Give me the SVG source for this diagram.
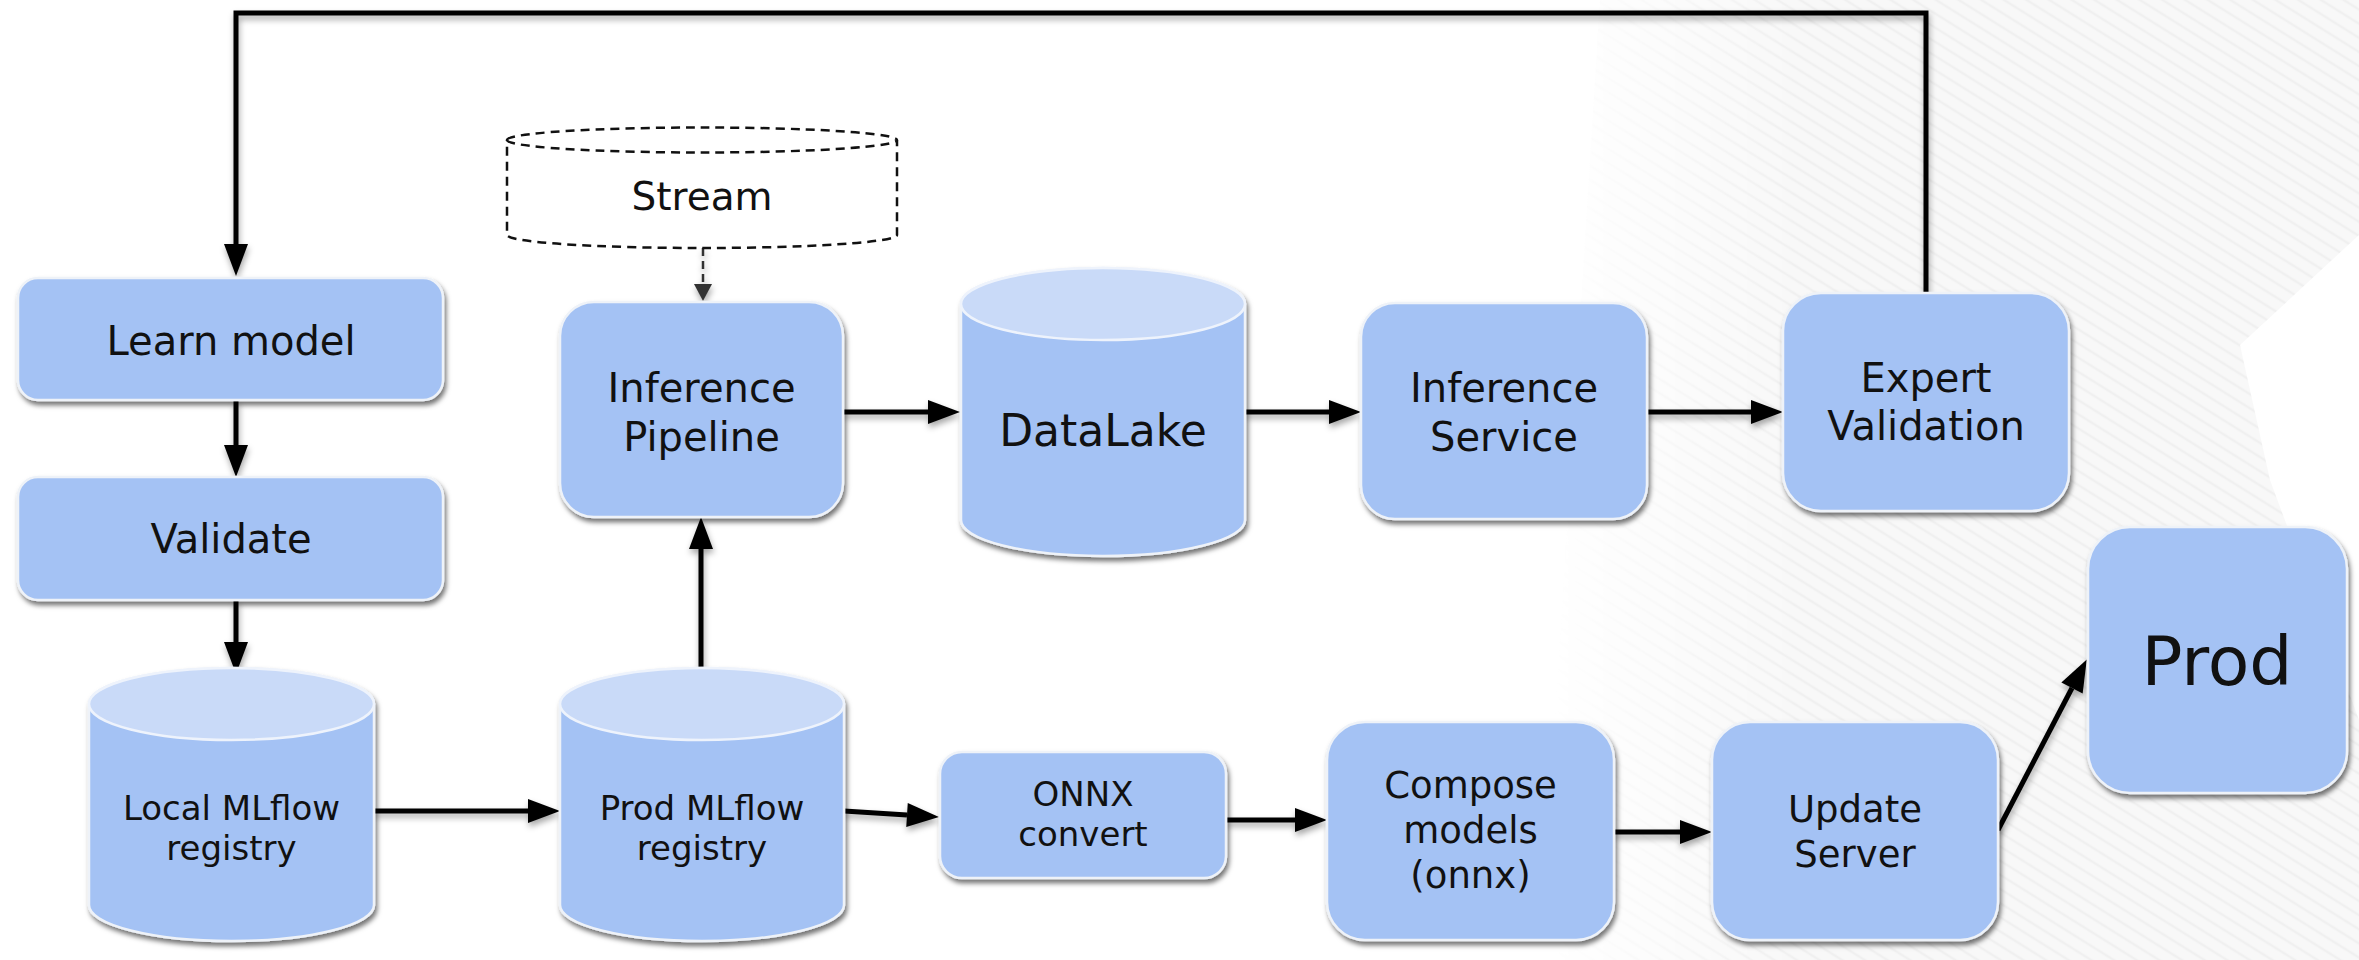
<svg xmlns="http://www.w3.org/2000/svg" width="2359" height="960" viewBox="0 0 2359 960">
<style>
.box{fill:#a4c2f4;stroke:#eef2f8;stroke-width:2.5;filter:url(#sh)}
.cyl{fill:#a4c2f4;stroke:#eef2f8;stroke-width:2.5}
.cyltop{fill:#c9daf8;stroke:#eef3fc;stroke-width:2.5}
.t{font-family:'DejaVu Sans','Liberation Sans',sans-serif;fill:#111;text-anchor:middle}
.c{fill:none;stroke:#000;stroke-width:5}
</style>
<defs>
<filter id="sh" x="-10%" y="-10%" width="125%" height="130%">
<feDropShadow dx="2" dy="4" stdDeviation="2.5" flood-color="#000" flood-opacity="0.55"/>
</filter>
<filter id="lsh" filterUnits="userSpaceOnUse" x="0" y="0" width="2359" height="960">
<feDropShadow dx="1" dy="4" stdDeviation="3" flood-color="#000" flood-opacity="0.35"/>
</filter>
<marker id="ah" markerUnits="userSpaceOnUse" markerWidth="32" markerHeight="24" refX="0" refY="12" orient="auto" overflow="visible">
<path d="M0,0 L32,12 L0,24 Z" fill="#000"/>
</marker>
<marker id="ahs" markerUnits="userSpaceOnUse" markerWidth="18" markerHeight="18" refX="0" refY="9" orient="auto" overflow="visible">
<path d="M0,0 L17,9 L0,18 Z" fill="#333"/>
</marker>
<pattern id="hatch" patternUnits="userSpaceOnUse" width="12" height="12" patternTransform="rotate(32)">
<rect width="12" height="12" fill="#f8f8f8"/>
<line x1="0" y1="6" x2="12" y2="6" stroke="#f0f0f0" stroke-width="2.5"/>
</pattern>
<linearGradient id="fade" x1="1550" y1="0" x2="1800" y2="0" gradientUnits="userSpaceOnUse">
<stop offset="0" stop-color="#fff" stop-opacity="0"/>
<stop offset="1" stop-color="#fff" stop-opacity="1"/>
</linearGradient>
<mask id="fm"><rect x="0" y="0" width="2359" height="960" fill="url(#fade)"/></mask>
</defs>
<rect width="2359" height="960" fill="#fff"/>
<g id="background" mask="url(#fm)">
<path d="M1600,0 H2359 V235 L2240,345 L2270,480 L2359,720 V960 H1540 Z" fill="url(#hatch)"/>
</g>

<g id="connectors" filter="url(#lsh)">
<path class="c" d="M1926,293 V13 H236 V244" marker-end="url(#ah)"/>
<path class="c" d="M236,400 V445" marker-end="url(#ah)"/>
<path class="c" d="M236,600 V642" marker-end="url(#ah)"/>
<path class="c" d="M374,811 H528" marker-end="url(#ah)"/>
<path class="c" d="M701,668 V549" marker-end="url(#ah)"/>
<path class="c" d="M843,412 H928" marker-end="url(#ah)"/>
<path class="c" d="M1245,412 H1329" marker-end="url(#ah)"/>
<path class="c" d="M1647,412 H1751" marker-end="url(#ah)"/>
<path class="c" d="M844,811 L907,815" marker-end="url(#ah)"/>
<path class="c" d="M1226,820 H1295" marker-end="url(#ah)"/>
<path class="c" d="M1614,832 H1680" marker-end="url(#ah)"/>
<path class="c" d="M1998,830 L2072,688" marker-end="url(#ah)"/>
<path d="M703,248 V284" fill="none" stroke="#333" stroke-width="2.5" stroke-dasharray="8,5" marker-end="url(#ahs)"/>
</g>

<g id="stream">
<path d="M507,140 A195,12.5 0 0 1 897,140 V235 A195,13 0 0 1 507,235 Z" fill="#fff" stroke="#111" stroke-width="2.5" stroke-dasharray="9,6"/>
<path d="M507,140 A195,12.5 0 0 0 897,140" fill="none" stroke="#111" stroke-width="2.5" stroke-dasharray="9,6"/>
<text class="t" x="702" y="210" font-size="39">Stream</text>
</g>

<g id="learn-model">
<rect class="box" x="18" y="278" width="425" height="122" rx="20"/>
<text class="t" x="231" y="355" font-size="40">Learn model</text>
</g>

<g id="validate">
<rect class="box" x="18" y="477" width="425" height="123" rx="20"/>
<text class="t" x="231" y="553" font-size="40">Validate</text>
</g>

<g id="local-mlflow">
<path class="cyl" filter="url(#sh)" d="M89,704 A142.5,36 0 0 1 374,704 V905 A142.5,36 0 0 1 89,905 Z"/>
<ellipse class="cyltop" cx="231.5" cy="704" rx="142.5" ry="36"/>
<text class="t" font-size="34"><tspan x="231.5" y="820">Local MLflow</tspan><tspan x="231.5" y="860">registry</tspan></text>
</g>

<g id="prod-mlflow">
<path class="cyl" filter="url(#sh)" d="M560,704 A142,36 0 0 1 844,704 V905 A142,36 0 0 1 560,905 Z"/>
<ellipse class="cyltop" cx="702" cy="704" rx="142" ry="36"/>
<text class="t" font-size="34"><tspan x="702" y="820">Prod MLflow</tspan><tspan x="702" y="860">registry</tspan></text>
</g>

<g id="inference-pipeline">
<rect class="box" x="560" y="302" width="283" height="215" rx="34"/>
<text class="t" font-size="40"><tspan x="701.5" y="402">Inference</tspan><tspan x="701.5" y="451">Pipeline</tspan></text>
</g>

<g id="datalake">
<path class="cyl" filter="url(#sh)" d="M961,304 A142,36 0 0 1 1245,304 V520 A142,36 0 0 1 961,520 Z"/>
<ellipse class="cyltop" cx="1103" cy="304" rx="142" ry="36"/>
<text class="t" x="1103" y="446" font-size="44">DataLake</text>
</g>

<g id="inference-service">
<rect class="box" x="1361" y="303" width="286" height="216" rx="34"/>
<text class="t" font-size="40"><tspan x="1504" y="402">Inference</tspan><tspan x="1504" y="451">Service</tspan></text>
</g>

<g id="expert-validation">
<rect class="box" x="1783" y="293" width="286" height="218" rx="38"/>
<text class="t" font-size="40"><tspan x="1926" y="392">Expert</tspan><tspan x="1926" y="440">Validation</tspan></text>
</g>

<g id="prod">
<rect class="box" x="2088" y="527" width="259" height="266" rx="42"/>
<text class="t" x="2217" y="685" font-size="68">Prod</text>
</g>

<g id="onnx-convert">
<rect class="box" x="940" y="752" width="286" height="126" rx="22"/>
<text class="t" font-size="34"><tspan x="1083" y="806">ONNX</tspan><tspan x="1083" y="846">convert</tspan></text>
</g>

<g id="compose-models">
<rect class="box" x="1327" y="722" width="287" height="218" rx="38"/>
<text class="t" font-size="37"><tspan x="1470.5" y="798">Compose</tspan><tspan x="1470.5" y="843">models</tspan><tspan x="1470.5" y="888">(onnx)</tspan></text>
</g>

<g id="update-server">
<rect class="box" x="1712" y="722" width="286" height="218" rx="38"/>
<text class="t" font-size="37"><tspan x="1855" y="822">Update</tspan><tspan x="1855" y="867">Server</tspan></text>
</g>
</svg>
